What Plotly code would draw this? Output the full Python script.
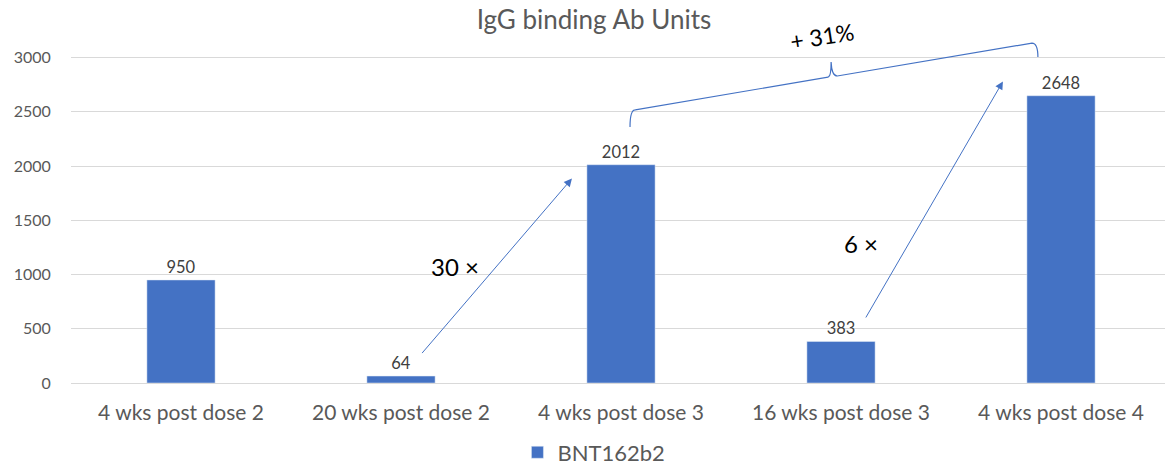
import plotly.graph_objects as go

categories = ["4 wks post dose 2", "20 wks post dose 2", "4 wks post dose 3",
              "16 wks post dose 3", "4 wks post dose 4"]
values = [950, 64, 2012, 383, 2648]
series_name = "BNT162b2"
y_ticks = [0, 500, 1000, 1500, 2000, 2500, 3000]

# annotation anchors (category index, value units)
arrow1 = dict(x0=1.09, y0=262, x1=1.777, y1=1885)
arrow2 = dict(x0=3.109, y0=590, x1=3.736, y1=2780)
brace_pts = [(2.041, 2360), (2.055, 2517), (2.941, 2820), (2.955, 2958),
             (2.973, 2830), (3.868, 3133), (3.895, 3004)]

BLUE = "#4472C4"
GRAY = "#595959"
FONT = "Lato"

fig = go.Figure()
fig.add_trace(go.Bar(
    x=list(range(len(categories))), y=values, name=series_name,
    marker_color=BLUE, width=0.31,
    text=[str(v) for v in values], textposition="outside",
    textfont=dict(size=16.5, color="#404040", family=FONT),
    cliponaxis=False, showlegend=True,
))

# brace shape
(p0, p1, p2, p3, p4, p5, p6) = brace_pts
path = (f"M {p0[0]},{p0[1]} Q {p0[0]},{p1[1]} {p1[0]+0.01},{p1[1]} "
        f"L {p2[0]},{p2[1]} Q {p3[0]},{p2[1]} {p3[0]},{p3[1]} "
        f"Q {p3[0]+0.003},{p4[1]} {p4[0]+0.01},{p4[1]} "
        f"L {p5[0]},{p5[1]} Q {p6[0]},{p5[1]} {p6[0]},{p6[1]}")
fig.add_shape(type="path", path=path, xref="x", yref="y",
              line=dict(color=BLUE, width=1.2))

for a in (arrow1, arrow2):
    fig.add_annotation(x=a["x1"], y=a["y1"], ax=a["x0"], ay=a["y0"],
                       xref="x", yref="y", axref="x", ayref="y",
                       showarrow=True, arrowhead=2, arrowsize=1.6,
                       arrowwidth=1, arrowcolor=BLUE, text="")

fig.add_annotation(x=1.245, y=1075, xref="x", yref="y", text="30 ×",
                   showarrow=False, font=dict(size=24, color="#000000", family=FONT))
fig.add_annotation(x=3.09, y=1285, xref="x", yref="y", text="6 ×",
                   showarrow=False, font=dict(size=24, color="#000000", family=FONT))
fig.add_annotation(x=2.914, y=3195, xref="x", yref="y", text="+ 31%",
                   showarrow=False, textangle=-9,
                   font=dict(size=23, color="#000000", family=FONT))

fig.update_layout(
    width=1165, height=465,
    margin=dict(l=71, r=0, t=25, b=81.5, autoexpand=False),
    paper_bgcolor="white", plot_bgcolor="white",
    title=dict(text="IgG binding Ab Units", x=0.478, xanchor="center",
               xref="paper", y=0.957, yanchor="middle",
               font=dict(size=26, color=GRAY, family=FONT)),
    xaxis=dict(range=[-0.5, 4.4727], tickvals=list(range(len(categories))),
               ticktext=categories, showgrid=False, zeroline=False,
               ticks="outside", ticklen=11, tickcolor="rgba(0,0,0,0)",
               tickfont=dict(size=21, color=GRAY, family=FONT),
               showline=False, automargin=False),
    yaxis=dict(range=[0, 3300], tickvals=y_ticks, showgrid=True,
               gridcolor="#d9d9d9", gridwidth=1, zeroline=True,
               zerolinecolor="#d9d9d9", zerolinewidth=1,
               ticks="outside", ticklen=16, tickcolor="rgba(0,0,0,0)",
               tickfont=dict(size=16, color=GRAY, family=FONT),
               automargin=False),
    legend=dict(orientation="h", x=0.478, xanchor="center", y=-0.194,
                yanchor="middle", font=dict(size=22, color=GRAY, family=FONT)),
    bargap=0.69,
)

fig.write_html("out.html", config={"displayModeBar": False},
               post_script="document.body.style.margin='0';document.body.style.overflow='hidden';")
